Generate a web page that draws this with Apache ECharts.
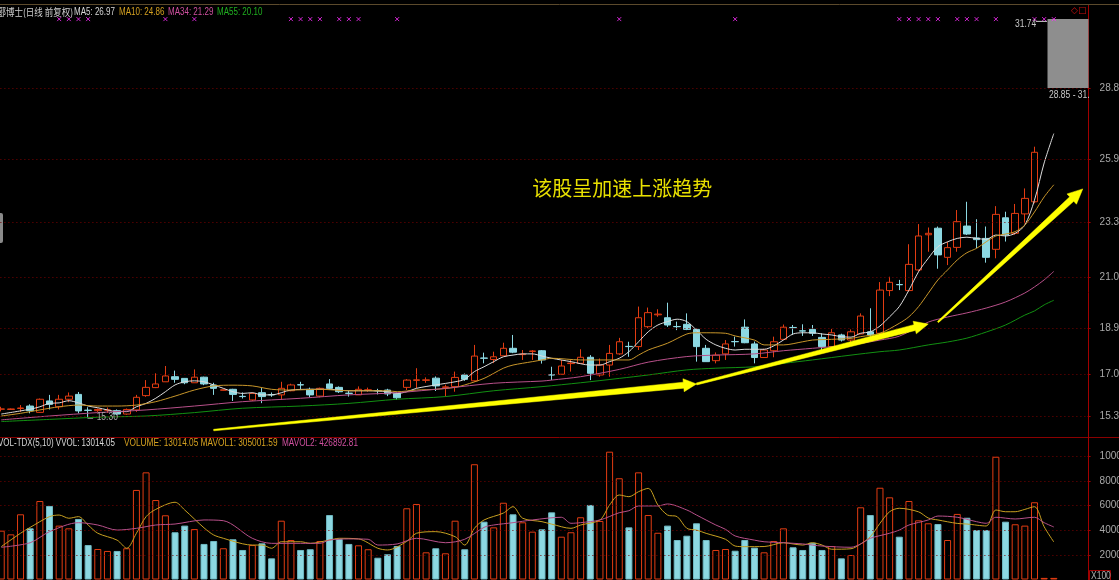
<!DOCTYPE html>
<html><head><meta charset="utf-8">
<script src="https://cdn.jsdelivr.net/npm/echarts@6/dist/echarts.min.js"></script>
<style>html,body{margin:0;padding:0;background:#000;overflow:hidden}#c{width:1119px;height:580px}</style>
</head><body><div id="c"></div>
<script>
// ---------- data ----------
const N_CATS = 113; // category slots on the x axis
// [open, close, low, high]
const candles = [
[15.61,15.62,15.52,15.71],[15.60,15.62,15.58,15.64],[15.64,15.66,15.50,15.78],[15.74,15.55,15.44,15.81],[15.48,16.02,15.46,16.05],
[15.95,15.81,15.60,16.20],[15.71,16.02,15.60,16.20],[16.02,16.15,15.90,16.30],[16.22,15.54,15.44,16.32],[15.57,15.56,15.30,15.69],
[15.55,15.60,15.50,15.64],[15.57,15.58,15.46,15.68],[15.55,15.41,15.36,15.60],[15.41,15.60,15.38,15.64],[15.58,16.10,15.50,16.20],
[16.17,16.51,16.12,16.81],[16.50,16.65,16.48,17.09],[16.74,16.98,16.74,17.39],[16.95,16.84,16.70,17.20],[16.88,16.70,16.64,16.88],
[16.70,16.93,16.70,17.25],[16.93,16.65,16.60,16.95],[16.61,16.47,16.20,16.70],[16.39,16.41,16.38,16.43],[16.43,16.22,15.95,16.45],
[16.14,16.13,16.05,16.30],[15.99,16.26,15.95,16.30],[16.29,16.13,15.86,16.48],[16.21,16.20,16.12,16.30],[16.20,16.47,15.99,16.74],
[16.37,16.61,16.35,16.66],[16.62,16.61,16.40,16.74],[16.43,16.20,16.10,16.50],[16.15,16.47,16.10,16.50],[16.65,16.47,16.40,16.85],
[16.51,16.33,16.28,16.55],[16.27,16.26,16.13,16.37],[16.20,16.43,16.20,16.55],[16.39,16.41,16.33,16.50],[16.38,16.37,16.22,16.45],
[16.40,16.24,16.15,16.45],[16.26,16.08,15.99,16.30],[16.51,16.81,16.40,16.85],[16.80,16.82,16.47,17.30],[16.80,16.82,16.70,16.92],
[16.89,16.57,16.36,16.96],[16.51,16.53,16.13,16.62],[16.54,16.92,16.33,17.16],[17.02,16.84,16.78,17.08],[16.78,17.80,16.74,18.26],
[17.72,17.71,17.50,17.94],[17.66,17.77,17.51,17.98],[17.81,18.12,17.81,18.35],[18.12,17.96,17.92,18.67],[17.86,17.88,17.64,18.05],
[17.99,18.01,17.64,18.05],[18.02,17.64,17.49,18.05],[17.03,17.02,16.81,17.36],[17.05,17.39,17.02,17.64],[17.49,17.51,17.16,17.64],
[17.50,17.75,17.50,18.08],[17.75,17.09,16.81,17.84],[17.02,17.43,16.95,17.70],[17.43,17.91,16.95,18.26],[17.89,18.39,17.85,18.55],
[18.20,18.19,17.77,18.39],[18.19,19.38,18.05,19.84],[19.01,19.59,18.95,19.80],[19.50,19.53,19.42,19.73],[19.38,19.08,19.00,20.00],
[19.02,19.01,18.87,19.22],[19.11,18.90,18.87,19.56],[18.90,18.19,17.57,18.94],[18.12,17.57,17.57,18.26],[17.61,17.84,17.50,17.95],
[17.89,18.30,17.64,18.46],[18.40,18.39,18.19,18.60],[18.99,18.35,18.33,19.31],[18.30,17.74,17.50,18.40],[17.74,18.05,17.74,18.10],
[18.02,18.39,17.75,18.60],[18.49,18.99,18.46,19.10],[18.98,18.97,18.67,19.08],[18.84,18.83,18.63,19.11],[18.90,18.74,18.63,19.08],
[18.57,18.19,18.05,18.74],[18.19,18.76,18.10,18.92],[18.67,18.46,18.40,18.72],[18.46,18.80,18.35,18.90],[18.71,19.45,18.70,19.56],
[18.80,18.67,18.60,19.77],[18.74,20.52,18.60,20.85],[20.50,20.84,20.27,21.07],[20.75,20.74,20.52,20.94],[20.50,21.58,20.46,22.41],
[21.35,22.75,21.28,23.24],[22.80,22.86,22.10,23.10],[23.07,21.97,21.40,23.14],[21.87,22.27,21.55,22.51],[22.28,23.34,22.10,23.82],
[23.16,22.83,22.79,24.16],[22.67,22.60,22.25,23.44],[22.65,21.87,21.65,23.14],[22.20,23.64,21.83,23.98],[23.50,22.79,22.52,23.75],
[22.86,23.68,22.80,24.07],[23.66,24.30,23.27,24.71],[24.16,26.20,24.10,26.43],'-','-'
];
// volume, in units of 100 shares
const volumes = [
3970,3670,5300,4160,6380,5980,4380,4160,4920,2800,
2480,2320,2320,2540,7280,8710,6460,5220,3840,4380,
4100,2890,3130,2540,3270,2400,2800,2940,1720,4780,
3210,2400,2460,3130,5240,3290,2890,2780,2460,1770,
2050,2720,5790,6140,2210,2540,2130,4780,2460,9370,
4700,4240,6240,5300,4650,3890,4080,5460,3480,3840,
5060,6060,4760,10390,8230,4240,8710,5240,3800,4380,
3210,3560,4570,3210,2400,2480,2340,3210,2590,2210,
3130,4160,2620,2400,2990,2400,2720,1720,1990,5870,
5240,7460,6680,3480,6380,4810,4570,4510,3210,5330,
5020,4020,4020,9980,4700,4490,4380,6280,130,130];
// moving averages: [index, value]
const ma5 = [[0,15.41],[3,15.61],[4,15.71],[5,15.85],[6,15.87],[7,15.96],[8,15.87],[9,15.74],[10,15.67],[11,15.58],[12,15.51],[13,15.51],[14,15.71],[15,15.85],[16,16.06],[17,16.33],[18,16.61],[19,16.74],[20,16.78],[21,16.74],[22,16.61],[23,16.47],[24,16.33],[25,16.26],[26,16.29],[27,16.2],[28,16.2],[30,16.40],[32,16.43],[34,16.43],[36,16.37],[38,16.37],[40,16.33],[41,16.26],[42,16.33],[43,16.47],[45,16.61],[47,16.74],[48,16.84],[49,17.16],[50,17.36],[51,17.57],[52,17.77],[53,17.84],[54,17.89],[55,17.89],[56,17.80],[57,17.71],[59,17.57],[61,17.43],[62,17.43],[63,17.57],[64,17.71],[65,17.98],[66,18.39],[67,18.80],[68,19.08],[69,19.22],[70,19.32],[71,19.22],[72,18.87],[73,18.49],[74,18.26],[75,18.12],[76,18.05],[77,18.08],[78,18.08],[79,18.08],[80,18.22],[81,18.46],[82,18.71],[83,18.76],[84,18.76],[85,18.71],[86,18.67],[87,18.60],[88,18.58],[89,18.74],[90,18.80],[91,19.04],[92,19.42],[93,19.84],[94,20.52],[95,21.28],[96,21.83],[97,22.31],[98,22.51],[99,22.65],[100,22.70],[101,22.65],[102,22.61],[103,22.79],[104,22.75],[105,22.86],[106,23.2],[107,24.23],[108,25.76],[109,26.97]];
const ma10 = [[0,15.33],[2,15.44],[4,15.58],[6,15.71],[8,15.78],[10,15.74],[12,15.74],[14,15.78],[16,15.92],[18,16.15],[20,16.40],[22,16.57],[24,16.60],[26,16.57],[28,16.43],[30,16.40],[33,16.43],[36,16.37],[40,16.37],[41,16.33],[43,16.40],[45,16.43],[47,16.51],[48,16.61],[50,16.88],[52,17.30],[53,17.43],[55,17.57],[56,17.64],[57,17.71],[60,17.64],[62,17.64],[65,17.64],[66,17.84],[67,18.05],[69,18.33],[71,18.71],[72,18.76],[73,18.76],[75,18.74],[76,18.63],[78,18.46],[79,18.26],[81,18.26],[83,18.39],[84,18.46],[86,18.49],[88,18.53],[89,18.60],[91,18.74],[93,19.15],[94,19.42],[95,19.84],[96,20.39],[97,20.94],[98,21.35],[99,21.76],[100,22.06],[101,22.24],[102,22.51],[103,22.75],[104,22.83],[105,22.93],[106,23.2],[107,23.74],[108,24.36],[109,24.86]];
const ma34 = [[0,15.17],[5,15.33],[10,15.47],[15,15.58],[20,15.74],[25,15.92],[31,16.06],[36,16.20],[41,16.29],[46,16.47],[51,16.68],[56,16.77],[57,16.81],[60,16.95],[64,17.25],[67,17.55],[71,17.78],[74,17.84],[78,17.89],[81,18.02],[84,18.12],[88,18.26],[91,18.46],[93,18.62],[96,19.2],[98,19.41],[100,19.58],[102,19.78],[104,20.03],[106,20.40],[107,20.65],[108,20.94],[109,21.29]];
const ma55 = [[0,15.10],[5,15.19],[10,15.28],[15,15.33],[20,15.47],[25,15.65],[31,15.74],[36,15.85],[41,16.02],[46,16.13],[51,16.37],[56,16.54],[60,16.70],[64,16.88],[67,17.02],[71,17.23],[74,17.30],[78,17.36],[81,17.50],[84,17.64],[88,17.84],[91,17.98],[93,18.05],[96,18.26],[98,18.38],[100,18.54],[102,18.79],[104,19.08],[106,19.49],[107,19.66],[108,19.91],[109,20.10]];
const mavol1 = [[0,2670],[2,3760],[3,4240],[5,5110],[6,5240],[7,4980],[8,5110],[9,4430],[10,3760],[12,3200],[13,2540],[14,3760],[15,5110],[16,5700],[18,6280],[19,5650],[21,4200],[22,3620],[23,3350],[25,2900],[26,2800],[27,2800],[28,2540],[29,3070],[31,3070],[32,2940],[34,3210],[35,3350],[37,3300],[39,2540],[40,2400],[42,3100],[43,3760],[45,3890],[47,3480],[48,2800],[49,4160],[50,4840],[52,5400],[53,5920],[54,4980],[56,4700],[57,4500],[59,4160],[60,4430],[62,4840],[63,6060],[64,6870],[65,6730],[66,7140],[67,7410],[68,6060],[69,5240],[70,5110],[71,4160],[72,4020],[73,3750],[75,3270],[76,2720],[77,2670],[79,2680],[81,2990],[82,2890],[83,2800],[84,2990],[85,2800],[86,2460],[88,2500],[89,2890],[90,3480],[91,4570],[92,5510],[93,5790],[95,5500],[96,5000],[97,4840],[99,4560],[100,4510],[102,4350],[103,5650],[104,5510],[105,5510],[106,5700],[107,5920],[108,4290],[109,3050]];
const mavol2 = [[0,2620],[3,2990],[5,3890],[8,4620],[10,4430],[12,4020],[14,4160],[16,4430],[18,4510],[21,4840],[23,4780],[26,3350],[28,2940],[31,2940],[33,2940],[34,3210],[36,3300],[38,3270],[39,2800],[41,2890],[43,3350],[46,2990],[48,3270],[50,4240],[51,4430],[53,4620],[55,4840],[58,5060],[59,4570],[60,4620],[62,4840],[64,5430],[65,5590],[66,5980],[68,5980],[69,6140],[71,5650],[72,5240],[74,4430],[75,4080],[76,3540],[78,3200],[79,3070],[81,2990],[83,2890],[85,2720],[88,2620],[89,2890],[90,3350],[92,3760],[93,4020],[94,4430],[96,4840],[97,5160],[99,5060],[101,4700],[102,4570],[103,5060],[105,4920],[107,5060],[108,4620],[109,4270]];
// signal markers along the top row (candle indexes)
const signalIdx = [6,7,8,9,17,20,30,31,32,33,35,36,37,41,64,76,93,94,95,96,97,99,100,101,103,107,108,109];
const priceTicks = [15.33,17.04,18.93,21.03,23.33,25.92,28.85];
const volTicks = [2000,4000,6000,8000,10000];
const lowMark = {idx:9, value:15.30};
const highRange = [28.85, 31.74];
const titleText = {name:'郾博士(日线 前复权)', vol:'VOL-TDX(5,10) VVOL: 13014.05', volume:'VOLUME: 13014.05 MAVOL1: 305001.59', mavol2:'MAVOL2: 426892.81'};
const noteText = '该股呈加速上涨趋势';
const notePos = [55.3, 24.73];
// hand-drawn arrows in data coordinates: [from, to]
const arrows = [
  {from:[22.45,14.75], to:[72.0,16.65], w0:1.5, w1:6, wh:13, hl:13},
  {from:[72.0,16.65], to:[96.2,19.12], w0:2, w1:6, wh:13, hl:14},
  {from:[97.2,19.20], to:[112.2,24.69], w0:1.5, w1:6, wh:14, hl:15}
];

// ---------- chart ----------
const UP = '#e23c12', DOWN = '#8cd8e2';
const cats = Array.from({length:N_CATS}, (_, i) => String(i));
const chart = echarts.init(document.getElementById('c'), null, {renderer:'canvas'});
const isUp = i => { const c = candles[i]; return c === '-' || c[1] >= c[0]; };
const volData = volumes.map((v, i) => ({
  value: v,
  itemStyle: isUp(i) ? {color: i >= 108 ? UP : '#000', borderColor: UP, borderWidth: 1}
                     : {color: DOWN, borderColor: '#6fb8c2', borderWidth: 1}
}));
const FONT = "'Liberation Sans',Arial,sans-serif";
const gridLine = (vals) => ({silent:true, symbol:['none','none'], label:{show:false},
  lineStyle:{color:'#7a0000', type:[1,3], width:1}, emphasis:{disabled:true},
  data: vals.map(v => ({yAxis:v}))});

chart.setOption({
  backgroundColor:'#000',
  animation:false,
  grid:[
    {left:-3.6, width:1091.2, top:14, height:423, containLabel:false, outerBoundsMode:'none'},
    {left:-3.6, width:1091.2, top:440.5, height:139, containLabel:false, outerBoundsMode:'none'}
  ],
  xAxis:[
    {type:'category', gridIndex:0, data:cats, boundaryGap:true, axisLine:{show:false}, axisTick:{show:false}, axisLabel:{show:false}, splitLine:{show:false}},
    {type:'category', gridIndex:1, data:cats, boundaryGap:true, axisLine:{show:false}, axisTick:{show:false}, axisLabel:{show:false}, splitLine:{show:false}}
  ],
  yAxis:[
    {type:'value', gridIndex:0, position:'right', min:14.464, max:31.9, scale:true,
     axisLine:{show:false}, splitLine:{show:false},
     axisTick:{show:true, customValues:priceTicks, length:3, inside:false, lineStyle:{color:'#a00000'}},
     axisLabel:{show:true, customValues:priceTicks, margin:12, color:'#a8a8a8', fontSize:10, fontFamily:FONT, formatter:v => v.toFixed(2)}},
    {type:'value', gridIndex:1, position:'right', min:0, max:11300,
     axisLine:{show:false}, splitLine:{show:false},
     axisTick:{show:true, customValues:volTicks, length:3, lineStyle:{color:'#a00000'}},
     axisLabel:{show:true, customValues:volTicks, margin:12, color:'#a8a8a8', fontSize:10, fontFamily:FONT, formatter:v => String(v)}}
  ],
  series:[
    {type:'candlestick', xAxisIndex:0, yAxisIndex:0, data:candles, barWidth:7, z:2,
     itemStyle:{color:'#000', color0:DOWN, borderColor:UP, borderColor0:DOWN, borderColorDoji:UP, borderWidth:1},
     markLine:gridLine(priceTicks)},
    {type:'line', name:'MA5', xAxisIndex:0, yAxisIndex:0, data:ma5, showSymbol:false, smooth:0.3, z:3, lineStyle:{color:'#dcdcdc', width:1}},
    {type:'line', name:'MA10', xAxisIndex:0, yAxisIndex:0, data:ma10, showSymbol:false, smooth:0.3, z:3, lineStyle:{color:'#c8962a', width:1}},
    {type:'line', name:'MA34', xAxisIndex:0, yAxisIndex:0, data:ma34, showSymbol:false, smooth:0.3, z:3, lineStyle:{color:'#b8508a', width:1}},
    {type:'line', name:'MA55', xAxisIndex:0, yAxisIndex:0, data:ma55, showSymbol:false, smooth:0.3, z:3, lineStyle:{color:'#129012', width:1}},
    {type:'scatter', xAxisIndex:0, yAxisIndex:0, data:signalIdx.map(i => [i, 31.69]), symbol:'path://M0,0L10,10M10,0L0,10', symbolSize:4, z:4,
     itemStyle:{color:'none', borderColor:'#ff30ff', borderWidth:1}},
    {type:'bar', xAxisIndex:1, yAxisIndex:1, data:volData, barWidth:7, z:2, markLine:gridLine(volTicks)},
    {type:'line', name:'MAVOL1', xAxisIndex:1, yAxisIndex:1, data:mavol1, showSymbol:false, smooth:0.3, z:3, lineStyle:{color:'#c8a020', width:1}},
    {type:'line', name:'MAVOL2', xAxisIndex:1, yAxisIndex:1, data:mavol2, showSymbol:false, smooth:0.3, z:3, lineStyle:{color:'#b8508a', width:1}}
  ]
});

function arrowPts(p0, p1, w0, w1, wh, hl){
  const dx=p1[0]-p0[0], dy=p1[1]-p0[1], L=Math.hypot(dx,dy);
  const ux=dx/L, uy=dy/L, nx=-uy, ny=ux;
  const bx=p1[0]-ux*hl, by=p1[1]-uy*hl;
  return [[p0[0]+nx*w0/2,p0[1]+ny*w0/2],[bx+nx*w1/2,by+ny*w1/2],[bx+nx*wh/2,by+ny*wh/2],[p1[0],p1[1]],
          [bx-nx*wh/2,by-ny*wh/2],[bx-nx*w1/2,by-ny*w1/2],[p0[0]-nx*w0/2,p0[1]-ny*w0/2]];
}
const px = p => chart.convertToPixel({gridIndex:0}, p);
const g = [];
const txt = (x, y, text, fill, font, sx, extraStyle) => g.push({type:'text', x, y, scaleX: sx || 1, silent:true, z:20,
  style:Object.assign({text, fill, font: font || ('10px '+FONT), textVerticalAlign:'middle'}, extraStyle || {})});
// frame
g.push({type:'line', shape:{x1:0,y1:4.5,x2:1119,y2:4.5}, style:{stroke:'#5c4a2c', lineWidth:1}, silent:true});
g.push({type:'line', shape:{x1:0,y1:437.5,x2:1119,y2:437.5}, style:{stroke:'#8a0000', lineWidth:1}, silent:true});
g.push({type:'line', shape:{x1:1088.5,y1:5,x2:1088.5,y2:580}, style:{stroke:'#a00000', lineWidth:1}, silent:true});
// titles
const last = a => a[a.length-1][1].toFixed(2);
txt(-2.5, 12, titleText.name, '#d0d0d0', "10px 'Noto Sans CJK SC'", 0.85);
txt(74, 12, 'MA5: '+last(ma5), '#d8d8d8', null, 0.8);
txt(119, 12, 'MA10: '+last(ma10), '#d4a020', null, 0.8);
txt(168, 12, 'MA34: '+last(ma34), '#d050a0', null, 0.8);
txt(217, 12, 'MA55: '+last(ma55), '#20b020', null, 0.8);
txt(-2, 443.5, titleText.vol, '#d8d8d8', null, 0.8);
txt(124, 443.5, titleText.volume, '#d4a020', null, 0.83);
txt(282, 443.5, titleText.mavol2, '#d050a0', null, 0.82);
// high range box (top right)
const yTop = px([0, highRange[1]])[1], yBot = px([0, highRange[0]])[1];
g.push({type:'rect', shape:{x:1047.5, y:yTop+1, width:41, height:yBot-yTop-1}, style:{fill:'#8e8e8e'}, silent:true});
g.push({type:'line', shape:{x1:1036,y1:yTop+3.5,x2:1047,y2:yTop+3.5}, style:{stroke:'#d0d0d0', lineWidth:1}, silent:true});
txt(1015, yTop+6, highRange[1].toFixed(2), '#c8c8c8', null, 0.85);
txt(1049, yBot+7, highRange[0].toFixed(2)+' - '+highRange[1].toFixed(2), '#c8c8c8', null, 0.85,
    {width:52, overflow:'truncate', ellipsis:''});
txt(1071, 11, '◇□', '#d01010', "9px 'DejaVu Sans'", 1);
// low marker
const lp = px([lowMark.idx, lowMark.value]);
g.push({type:'polyline', shape:{points:[[lp[0]-0.5,lp[1]-6],[lp[0]-0.5,lp[1]+1.5],[lp[0]+5,lp[1]+1.5]]}, style:{stroke:'#a8a8a8', lineWidth:1, fill:null}, silent:true});
txt(lp[0]+8.5, lp[1]+1, lowMark.value.toFixed(2), '#a8a8a8', null, 0.85);
// arrows
arrows.forEach(a => g.push({type:'polygon', shape:{points:arrowPts(px(a.from), px(a.to), a.w0, a.w1, a.wh, a.hl)}, style:{fill:'#ffff00', stroke:'#ffff00', lineWidth:0.5}, z:10, silent:true}));
// annotation text
const np = px(notePos);
txt(np[0], np[1], noteText, '#e8e000', "20px 'Noto Sans CJK SC'", 1);
// left handle + X100 box
g.push({type:'rect', shape:{x:-3, y:213, width:6, height:30, r:2}, style:{fill:'#8a8a8a'}, silent:true});
g.push({type:'rect', shape:{x:1089.5, y:570.5, width:21, height:10}, style:{fill:'#000', stroke:'#a00000', lineWidth:1}, silent:true});
txt(1091, 576, 'X100', '#b0b0b0', null, 0.85);
chart.setOption({graphic:{elements:g}});
</script></body></html>
